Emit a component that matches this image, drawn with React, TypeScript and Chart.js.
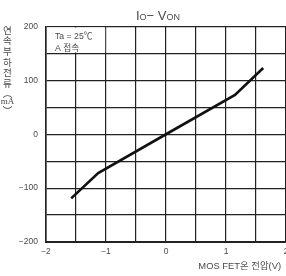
import React, { useEffect, useRef } from "react";
import { Chart, registerables } from "chart.js";

Chart.register(...registerables);

const vOn = [-1.58, -1.13, 0, 1.15, 1.62];
const iOut = [-119, -72, 0, 73, 123];
const yTickLabels: Record<string, string> = { "200": "200", "100": "100", "0": "0", "-100": "−100", "-200": "−200" };
const xTickLabels: Record<string, string> = { "-2": "−2", "-1": "−1", "0": "0", "1": "1", "2": "2" };
const yTitleChars = ["연", "속", "부", "하", "전", "류"];
const xTitle = "MOS FET온 전압(V)";
const noteLines = ["Ta = 25℃", "A 접속"];

const SANS = '"Liberation Sans", "Noto Sans CJK KR", sans-serif';
const TEXT = "#4a4a4a";

const decorPlugin = {
  id: "decor",
  beforeDatasetsDraw(chart: any) {
    const { ctx } = chart;
    const xs = chart.scales.x;
    const ys = chart.scales.y;
    const l = xs.getPixelForValue(-2);
    const r = xs.getPixelForValue(-1);
    const t = ys.getPixelForValue(200);
    const b = ys.getPixelForValue(150);
    ctx.save();
    ctx.fillStyle = "#fff";
    ctx.fillRect(l + 1.2, t + 1, r - l - 2, b - t - 2);
    ctx.fillStyle = TEXT;
    ctx.font = `8.7px ${SANS}`;
    ctx.textAlign = "left";
    ctx.textBaseline = "alphabetic";
    ctx.fillText(noteLines[0], l + 9, t + 12.5);
    ctx.fillText(noteLines[1], l + 9, t + 24.5);
    ctx.restore();
  },
  afterDraw(chart: any) {
    const { ctx } = chart;
    ctx.save();
    ctx.fillStyle = TEXT;
    const parts: [string, number][] = [["I", 13], ["O", 9], ["− V", 13], ["ON", 9]];
    let total = 0;
    for (const [s, sz] of parts) {
      ctx.font = `${sz}px ${SANS}`;
      total += ctx.measureText(s).width;
    }
    let x = 158 - total / 2;
    ctx.textBaseline = "alphabetic";
    ctx.textAlign = "left";
    for (const [s, sz] of parts) {
      ctx.font = `${sz}px ${SANS}`;
      ctx.fillText(s, x, 19.5);
      x += ctx.measureText(s).width;
    }
    ctx.textAlign = "center";
    ctx.textBaseline = "middle";
    ctx.font = `9.6px "Noto Sans CJK KR", sans-serif`;
    let y = 30;
    for (const c of yTitleChars) {
      ctx.fillText(c, 7.5, y);
      y += 10.7;
    }
    ctx.fillText("︵", 7.5, 93);
    ctx.font = `9px "Liberation Serif", serif`;
    ctx.fillText("mA", 7.5, 101.5);
    ctx.font = `9.6px "Noto Sans CJK KR", sans-serif`;
    ctx.fillText("︶", 7.5, 110);
    ctx.textAlign = "right";
    ctx.textBaseline = "alphabetic";
    ctx.font = `9.4px ${SANS}`;
    ctx.fillText(xTitle, 281, 269);
    ctx.restore();
  },
};

export default function App() {
  const ref = useRef<HTMLCanvasElement>(null);
  useEffect(() => {
    const canvas = ref.current!;
    const chart = new Chart(canvas, {
      type: "line",
      data: {
        datasets: [
          {
            data: vOn.map((v, i) => ({ x: v, y: iOut[i] })),
            borderColor: "#111",
            borderWidth: 2.6,
            pointRadius: 0,
            tension: 0,
            fill: false,
          },
        ],
      },
      options: {
        animation: false,
        responsive: false,
        devicePixelRatio: 1,
        layout: { padding: { top: 26.5, right: 14, left: 0, bottom: 0 } },
        plugins: { legend: { display: false }, tooltip: { enabled: false }, title: { display: false } },
        scales: {
          x: {
            type: "linear",
            min: -2,
            max: 2,
            afterFit: (s: any) => {
              s.height = 34;
            },
            ticks: {
              stepSize: 0.5,
              autoSkip: false,
              maxRotation: 0,
              padding: 5,
              color: TEXT,
              font: { family: SANS, size: 8.5 },
              callback: (v: any) => xTickLabels[String(v)] ?? "",
            },
            grid: { color: "#222", lineWidth: 1.2, drawTicks: false },
            border: { display: true, color: "#222", width: 2 },
          },
          y: {
            min: -200,
            max: 200,
            afterFit: (s: any) => {
              s.width = 46;
            },
            ticks: {
              stepSize: 50,
              autoSkip: false,
              padding: 8,
              color: TEXT,
              font: { family: SANS, size: 8.5 },
              callback: (v: any) => yTickLabels[String(v)] ?? "",
            },
            grid: { color: "#222", lineWidth: 1.2, drawTicks: false },
            border: { display: true, color: "#222", width: 1.6 },
          },
        },
      },
      plugins: [decorPlugin],
    });
    return () => chart.destroy();
  }, []);
  return (
    <div style={{ position: "fixed", left: 0, top: 0, width: 286, height: 276, overflow: "hidden", background: "#fff" }}>
      <canvas ref={ref} width={300} height={276} style={{ width: 300, height: 276, display: "block" }} />
    </div>
  );
}
